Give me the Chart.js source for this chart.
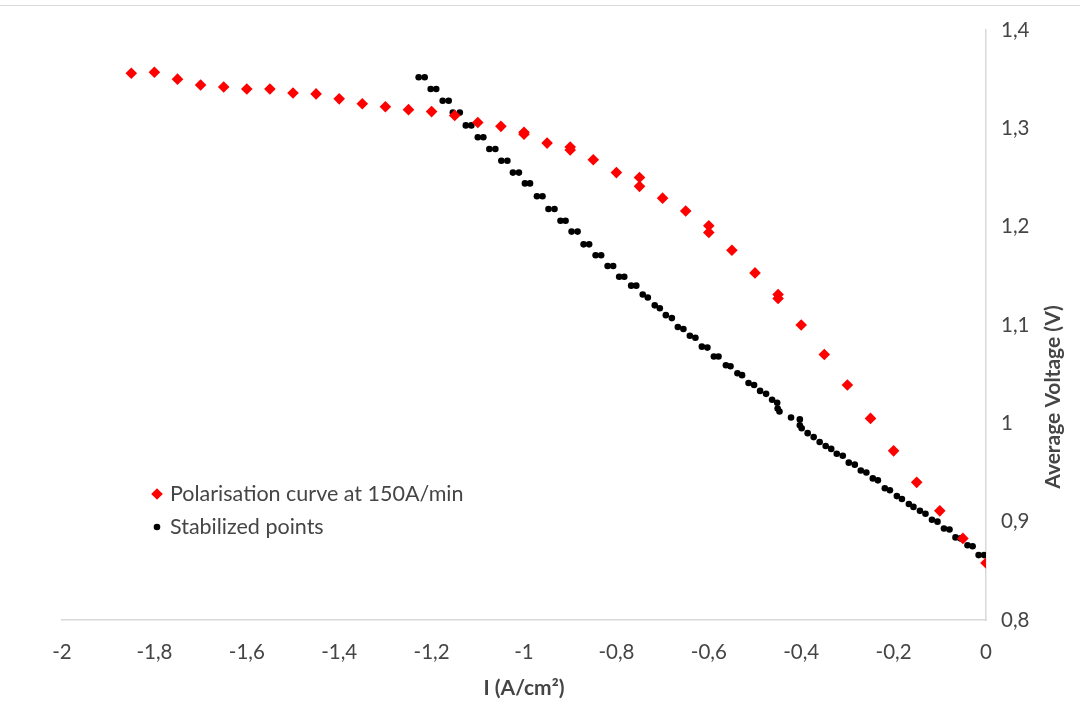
<!DOCTYPE html>
<html>
<head>
<meta charset="utf-8">
<title>Polarisation curve</title>
<script src="https://cdn.jsdelivr.net/npm/chart.js@4.4.1/dist/chart.umd.min.js"></script>
<style>
  html, body { margin: 0; padding: 0; background: #fff; }
  #wrap { width: 1080px; height: 708px; }
</style>
</head>
<body>
<div id="wrap"><canvas id="polChart" width="1080" height="708"></canvas></div>
<script>
// polarisation curve recorded at 150 A/min
const polCurrent = [-1.85, -1.8, -1.75, -1.7, -1.65, -1.6, -1.55, -1.5, -1.45, -1.4,
  -1.35, -1.3, -1.25, -1.2, -1.15, -1.1, -1.05, -1, -1, -0.95,
  -0.9, -0.9, -0.85, -0.8, -0.75, -0.75, -0.7, -0.65, -0.6, -0.6,
  -0.55, -0.5, -0.45, -0.45, -0.4, -0.35, -0.3, -0.25, -0.2, -0.15,
  -0.1, -0.05, 0];
const polVoltage = [1.356, 1.357, 1.350, 1.344, 1.342, 1.340, 1.340, 1.336, 1.335, 1.330,
  1.325, 1.322, 1.319, 1.317, 1.313, 1.306, 1.302, 1.296, 1.294, 1.285,
  1.281, 1.278, 1.268, 1.255, 1.250, 1.241, 1.229, 1.216, 1.201, 1.194,
  1.176, 1.153, 1.131, 1.127, 1.100, 1.070, 1.039, 1.005, 0.972, 0.940,
  0.911, 0.883, 0.858];

// stabilized operating points
const stabCurrent = [-1.228, -1.215, -1.202, -1.190, -1.176, -1.163, -1.154, -1.139, -1.126, -1.114,
  -1.100, -1.088, -1.075, -1.062, -1.049, -1.036, -1.024, -1.011, -0.998, -0.987,
  -0.972, -0.960, -0.947, -0.934, -0.921, -0.910, -0.897, -0.884, -0.871, -0.859,
  -0.845, -0.833, -0.819, -0.807, -0.794, -0.783, -0.768, -0.757, -0.743, -0.732,
  -0.717, -0.706, -0.693, -0.680, -0.667, -0.655, -0.641, -0.629, -0.615, -0.603,
  -0.589, -0.579, -0.563, -0.553, -0.538, -0.528, -0.514, -0.502, -0.489, -0.476,
  -0.463, -0.452, -0.451, -0.447, -0.422, -0.403, -0.403, -0.399, -0.386, -0.373,
  -0.360, -0.347, -0.335, -0.323, -0.310, -0.297, -0.284, -0.271, -0.259, -0.245,
  -0.234, -0.219, -0.208, -0.193, -0.182, -0.167, -0.157, -0.143, -0.131, -0.117,
  -0.105, -0.091, -0.079, -0.066, -0.055, -0.040, -0.029, -0.016, -0.004];
const stabVoltage = [1.352, 1.352, 1.340, 1.340, 1.328, 1.328, 1.316, 1.316, 1.303, 1.303,
  1.291, 1.291, 1.279, 1.279, 1.267, 1.267, 1.255, 1.255, 1.244, 1.244,
  1.231, 1.231, 1.218, 1.218, 1.206, 1.206, 1.195, 1.195, 1.182, 1.182,
  1.171, 1.171, 1.160, 1.160, 1.149, 1.149, 1.140, 1.140, 1.131, 1.128,
  1.120, 1.117, 1.110, 1.107, 1.098, 1.096, 1.089, 1.087, 1.078, 1.077,
  1.068, 1.068, 1.059, 1.058, 1.051, 1.049, 1.041, 1.039, 1.033, 1.030,
  1.024, 1.021, 1.015, 1.012, 1.006, 1.004, 0.998, 0.995, 0.990, 0.986,
  0.981, 0.977, 0.974, 0.969, 0.967, 0.960, 0.958, 0.952, 0.950, 0.944,
  0.942, 0.934, 0.932, 0.926, 0.923, 0.918, 0.915, 0.911, 0.908, 0.902,
  0.900, 0.893, 0.892, 0.884, 0.883, 0.876, 0.875, 0.866, 0.866];

const xTickLabels = ['-2', '-1,8', '-1,6', '-1,4', '-1,2', '-1', '-0,8', '-0,6', '-0,4', '-0,2', '0'];
const yTickLabels = ['0,8', '0,9', '1', '1,1', '1,2', '1,3', '1,4'];

const FONT = 'Lato, "Open Sans", sans-serif';
const GREY_TEXT = '#454545';
const AXIS_LINE = '#d9d9d9';

function toPoints(xs, ys) {
  return xs.map((x, i) => ({ x: x, y: ys[i] }));
}

// legend inside the plot, y axis title reading bottom-to-top, outer frame line
const extras = {
  id: 'extras',
  afterDraw(chart) {
    const ctx = chart.ctx;
    ctx.save();

    ctx.strokeStyle = AXIS_LINE;
    ctx.lineWidth = 1;
    ctx.beginPath();
    ctx.moveTo(0, 5.5);
    ctx.lineTo(chart.width, 5.5);
    ctx.stroke();

    ctx.font = '21.5px ' + FONT;
    ctx.textBaseline = 'middle';
    ctx.textAlign = 'left';
    chart.data.datasets.forEach((ds, i) => {
      const y = 494 + i * 33;
      ctx.fillStyle = ds.backgroundColor;
      Chart.helpers.drawPoint(ctx, {
        pointStyle: ds.pointStyle,
        radius: ds.pointRadius,
        rotation: 0,
        borderWidth: 0
      }, 157, y);
      ctx.fillStyle = GREY_TEXT;
      ctx.fillText(ds.label, 170, y);
    });

    ctx.translate(1053, 397);
    ctx.rotate(-Math.PI / 2);
    ctx.font = 'bold 21px ' + FONT;
    ctx.textAlign = 'center';
    ctx.fillStyle = GREY_TEXT;
    ctx.fillText('Average Voltage (V)', 0, 0);
    ctx.restore();
  }
};

const ctxPol = document.getElementById('polChart');

new Chart(ctxPol, {
  type: 'scatter',
  data: {
    datasets: [{
      label: 'Polarisation curve at 150A/min',
      data: toPoints(polCurrent, polVoltage),
      pointStyle: 'rectRot',
      pointRadius: 5.8,
      pointBorderWidth: 0,
      backgroundColor: '#ff0000',
      borderColor: '#ff0000'
    }, {
      label: 'Stabilized points',
      data: toPoints(stabCurrent, stabVoltage),
      pointStyle: 'circle',
      pointRadius: 3.3,
      pointBorderWidth: 0,
      backgroundColor: '#000000',
      borderColor: '#000000'
    }]
  },
  options: {
    responsive: false,
    animation: false,
    layout: {
      padding: { left: 62, top: 30, right: 0, bottom: 0 }
    },
    plugins: {
      legend: { display: false },
      tooltip: { enabled: false }
    },
    scales: {
      x: {
        type: 'linear',
        position: 'bottom',
        min: -2,
        max: 0,
        grid: { display: false, drawTicks: false },
        border: { display: true, color: AXIS_LINE, width: 1.5 },
        ticks: {
          stepSize: 0.2,
          padding: 20,
          color: GREY_TEXT,
          font: { family: FONT, size: 20.5 },
          maxRotation: 0,
          callback: (value, index) => xTickLabels[index]
        },
        title: {
          display: true,
          text: 'I (A/cm²)',
          color: GREY_TEXT,
          font: { family: FONT, size: 21, weight: 'bold' },
          padding: { top: 0, bottom: 7 }
        },
        afterFit: (scale) => { scale.height = 88; }
      },
      y: {
        type: 'linear',
        position: 'right',
        min: 0.8,
        max: 1.4,
        grid: { display: false, drawTicks: false },
        border: { display: true, color: AXIS_LINE, width: 1.5 },
        ticks: {
          stepSize: 0.1,
          padding: 15,
          color: GREY_TEXT,
          font: { family: FONT, size: 20.5 },
          callback: (value, index) => yTickLabels[index]
        },
        afterFit: (scale) => { scale.width = 94; }
      }
    }
  },
  plugins: [extras]
});
</script>
</body>
</html>
